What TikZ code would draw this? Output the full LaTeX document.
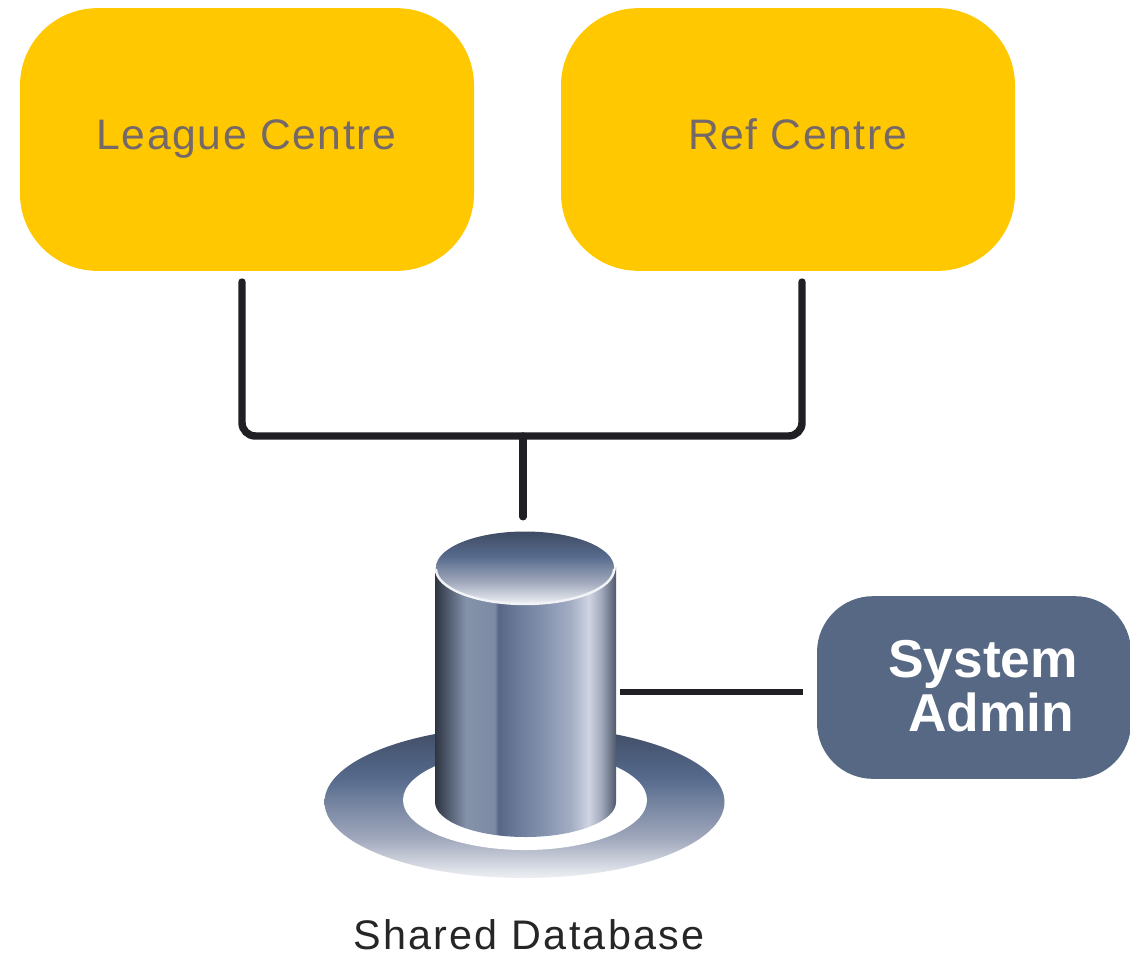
\documentclass[tikz,border=0pt]{standalone}
\usepackage{fontspec}
\setmainfont{Liberation Sans}
\usetikzlibrary{calc}
\definecolor{gold}{HTML}{FFC800}
\definecolor{slatebox}{HTML}{566883}
\definecolor{labelgrey}{HTML}{756868}
\definecolor{conn}{HTML}{202024}
\definecolor{lightrim}{HTML}{F2F3F7}
\definecolor{cyla}{HTML}{2E3542}
\definecolor{cylb}{HTML}{566074}
\definecolor{cylc}{HTML}{8492AA}
\definecolor{cyld}{HTML}{7C8AA4}
\definecolor{cyle}{HTML}{566684}
\definecolor{cylf}{HTML}{6A7A98}
\definecolor{cylg}{HTML}{8492AE}
\definecolor{cylh}{HTML}{A3AEC4}
\definecolor{cyli}{HTML}{D0D4E2}
\definecolor{cylj}{HTML}{A0A8BC}
\definecolor{cylk}{HTML}{50586C}
\definecolor{capa}{HTML}{3F4B63}
\definecolor{capb}{HTML}{566A8C}
\definecolor{capc}{HTML}{A0A8BC}
\definecolor{capd}{HTML}{EEF0F4}
\pgfdeclarehorizontalshading{cylbody}{100bp}{
  color(0bp)=(cyla);
  color(25bp)=(cyla);
  color(29bp)=(cylb);
  color(33.5bp)=(cylc);
  color(41.5bp)=(cyld);
  color(42.5bp)=(cyle);
  color(47.5bp)=(cylf);
  color(55bp)=(cylg);
  color(62.5bp)=(cylh);
  color(67.5bp)=(cyli);
  color(71bp)=(cylj);
  color(75bp)=(cylk);
  color(100bp)=(cylk)}
\pgfdeclareverticalshading{capface}{100bp}{
  color(0bp)=(capd);
  color(25bp)=(capd);
  color(40bp)=(capc);
  color(58bp)=(capb);
  color(75bp)=(capa);
  color(100bp)=(capa)}
\pgfdeclareverticalshading{saucerface}{100bp}{
  color(0bp)=(capd);
  color(25bp)=(capd);
  color(38bp)=(capc);
  color(58bp)=(capb);
  color(75bp)=(capa);
  color(100bp)=(capa)}
\tikzset{
  centrebox/.style={fill=gold,rounded corners=58pt,minimum width=340.5pt,minimum height=197pt,inner sep=0pt},
  centrelabel/.style={anchor=base,text=labelgrey,inner sep=0pt,font=\fontsize{32pt}{36pt}\selectfont\addfontfeature{LetterSpace=3.7}},
  adminbox/.style={fill=slatebox,rounded corners=42pt,minimum width=235.5pt,minimum height=137pt,inner sep=0pt},
  adminlabel/.style={anchor=base,text=white,inner sep=0pt,font=\fontsize{40pt}{42pt}\selectfont\bfseries},
  thick link/.style={draw=conn,line width=5.6pt,line cap=round,rounded corners=10pt},
  thin link/.style={draw=conn,line width=4.2pt},
  caption/.style={anchor=base,text=black!85,inner sep=0pt,font=\fontsize{31pt}{36pt}\selectfont\addfontfeature{LetterSpace=5.5}},
  x=0.75pt,y=-0.75pt
}
\begin{document}
\begin{tikzpicture}
\useasboundingbox (0,0) rectangle (1130,956);
\fill[white] (0,0) rectangle (1130,956);
% centre boxes
\node[centrebox] (league) at (247,139.5) {};
\node[centrebox] (ref) at (788,139.5) {};
\node[centrelabel] (leaguetxt) at (246.5,149) {League Centre};
\node[centrelabel] (reftxt) at (797.5,149) {Ref Centre};
% saucer
\shade[shading=saucerface] (524.5,802) ellipse [x radius=200,y radius=76];
\fill[white] (525,800) ellipse [x radius=122,y radius=50];
% cylinder
\shade[shading=cylbody] (435,567) -- (435,802) arc[start angle=180,end angle=0,x radius=90.5,y radius=35] -- (616,567) arc[start angle=0,end angle=180,x radius=90.5,y radius=36] -- cycle;
\shade[shading=capface] (525,567.5) ellipse [x radius=89,y radius=36];
\draw[lightrim,line width=1.8pt] (436,569) arc[start angle=180,end angle=0,x radius=89,y radius=35];
\node[minimum width=135.75pt,minimum height=228pt,inner sep=0pt] (db) at (525.5,684) {};
% admin
\node[adminbox] (admin) at (974,687.5) {};
\node[adminlabel] (systemtxt) at (983,677) {System};
\node[adminlabel] (admintxt) at (991,731) {Admin};
% caption
\node[caption] (dbtxt) at (529,949.5) {Shared Database};
% connectors
\coordinate (leaguedrop) at ($(league.south)+(-5,11)$);
\coordinate (refdrop) at ($(ref.south)+(14,11)$);
\coordinate (junction) at (523,436);
\draw[thick link] (leaguedrop) |- (junction) -| (refdrop);
\draw[thick link] (junction) -- ($(db.north)+(-2.5,-15)$);
\draw[thin link] ($(db.east)+(4,8)$) -- ($(admin.west)+(-14,4.5)$);
\end{tikzpicture}
\end{document}
